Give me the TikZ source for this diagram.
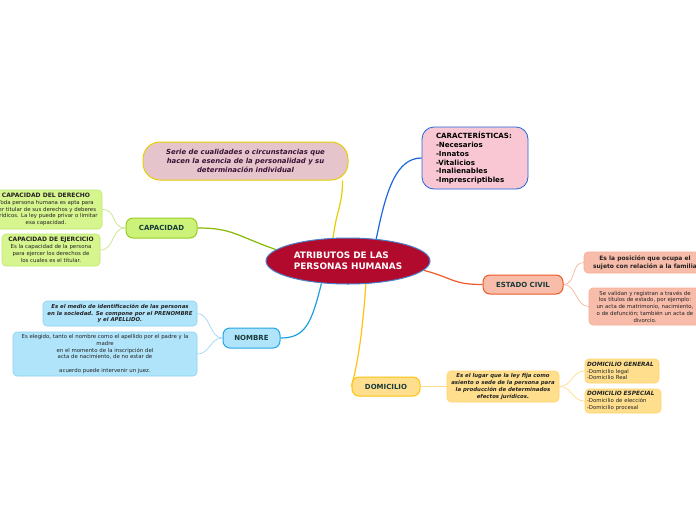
\documentclass[tikz,border=0pt]{standalone}
\usepackage{fontspec}
\setmainfont{DejaVu Sans}
\usetikzlibrary{shapes.geometric,backgrounds}
\definecolor{crim}{HTML}{B20A2C}
\definecolor{cblue}{HTML}{4A80C8}
\definecolor{defpink}{HTML}{E6C4CC}
\definecolor{defyel}{HTML}{E5CF00}
\definecolor{deftext}{HTML}{3A1035}
\definecolor{carpink}{HTML}{F9C7D4}
\definecolor{carblue}{HTML}{1E66DD}
\definecolor{capfill}{HTML}{CCF27A}
\definecolor{capdraw}{HTML}{99CC22}
\definecolor{capsubfill}{HTML}{D6F58E}
\definecolor{capsubdraw}{HTML}{BFE86E}
\definecolor{capline}{HTML}{88B800}
\definecolor{caplight}{HTML}{C6E68A}
\definecolor{nomfill}{HTML}{B0E4FA}
\definecolor{nomdraw}{HTML}{22A6E6}
\definecolor{nomline}{HTML}{1BA1E2}
\definecolor{nomsubdraw}{HTML}{8CD3F5}
\definecolor{nomlight}{HTML}{9ED8F4}
\definecolor{ecfill}{HTML}{F8BCAA}
\definecolor{ecdraw}{HTML}{EE5A24}
\definecolor{ecline}{HTML}{F05A28}
\definecolor{ecsubdraw}{HTML}{F7AD95}
\definecolor{eclight}{HTML}{F8B4A0}
\definecolor{domfill}{HTML}{FFDF8E}
\definecolor{domdraw}{HTML}{FFC20E}
\definecolor{domsubdraw}{HTML}{FFD36A}
\definecolor{domlight}{HTML}{FFDC8A}
\definecolor{maintext}{HTML}{173B3B}
\definecolor{smalltext}{HTML}{222222}
\begin{document}
\begin{tikzpicture}[x=1pt,y=-1pt,
  central/.style={ellipse, fill=crim, draw=cblue, line width=1pt, minimum width=164pt, minimum height=46pt, inner sep=0pt, text=white, font=\bfseries\fontsize{8.9}{11}\selectfont, align=left},
  mainbox/.style={rectangle, rounded corners=7pt, line width=1pt, inner sep=0pt, text=maintext, font=\bfseries\fontsize{7}{8}\selectfont},
  subbox/.style={rectangle, rounded corners=4pt, line width=0.6pt, inner sep=0pt, text=smalltext, align=center, font=\fontsize{5.4}{6.8}\selectfont},
  mainline/.style={line width=1.2pt},
  subline/.style={line width=0.7pt}
]
\useasboundingbox (0,0) rectangle (696,520);
\begin{scope}[on background layer]
\fill[white] (0,0) rectangle (696,520);
\end{scope}

% central
\node[central] (c) at (348,261) {ATRIBUTOS DE LAS\\PERSONAS HUMANAS};

% definition
\node[rectangle, rounded corners=17pt, fill=defpink, draw=defyel, line width=1pt, minimum width=205pt, minimum height=38pt, inner sep=0pt, text=deftext, align=center, font=\bfseries\itshape\fontsize{6.9}{8.6}\selectfont] (def) at (245.5,161) {Serie de cualidades o circunstancias que\\hacen la esencia de la personalidad y su\\determinación individual};

% caracteristicas
\node[rectangle, rounded corners=12pt, fill=carpink, draw=carblue, line width=0.8pt, minimum width=106pt, minimum height=62pt, inner sep=0pt, text width=78pt, align=left, font=\bfseries\fontsize{7.1}{8.9}\selectfont] (car) at (475,158) {CARACTERÍSTICAS:\\-Necesarios\\-Innatos\\-Vitalicios\\-Inalienables\\-Imprescriptibles};

% capacidad
\node[mainbox, fill=capfill, draw=capdraw, minimum width=71pt, minimum height=20pt] (cap) at (161.5,228) {CAPACIDAD};
\node[subbox, fill=capsubfill, draw=capsubdraw, minimum width=112pt, minimum height=39pt] (der) at (46,209.5) {{\bfseries\fontsize{6}{7.5}\selectfont CAPACIDAD DEL DERECHO}\\Toda persona humana es apta para\\ser titular de sus derechos y deberes\\jurídicos. La ley puede privar o limitar\\esa capacidad.};
\node[subbox, fill=capsubfill, draw=capsubdraw, minimum width=98pt, minimum height=32pt] (eje) at (51,250) {{\bfseries\fontsize{6}{7.5}\selectfont CAPACIDAD DE EJERCICIO}\\Es la capacidad de la persona\\para ejercer los derechos de\\los cuales es el titular.};

% nombre
\node[mainbox, fill=nomfill, draw=nomdraw, minimum width=57pt, minimum height=20pt] (nom) at (251.5,338) {NOMBRE};
\node[subbox, fill=nomfill, draw=nomsubdraw, minimum width=154pt, minimum height=25pt, font=\bfseries\itshape\fontsize{5.4}{6.8}\selectfont] (n1) at (120,313.5) {Es el medio de identificación de las personas\\en la sociedad. Se compone por el PRENOMBRE\\y el APELLIDO.};
\node[subbox, fill=nomfill, draw=nomsubdraw, minimum width=184pt, minimum height=44pt] (n2) at (105,354) {Es elegido, tanto el nombre como el apellido por el padre y la\\madre\\en el momento de la inscripción del\\acta de nacimiento, de no estar de\\[6.6pt]acuerdo puede intervenir un juez.};

% estado civil
\node[mainbox, fill=ecfill, draw=ecdraw, minimum width=80pt, minimum height=19pt] (ec) at (523,284.5) {ESTADO CIVIL};
\node[subbox, fill=ecfill, draw=ecsubdraw, minimum width=122pt, minimum height=21pt, font=\bfseries\fontsize{6}{7.5}\selectfont] (ec1) at (645,262.5) {Es la posición que ocupa el\\sujeto con relación a la familia};
\node[subbox, fill=ecfill, draw=ecsubdraw, minimum width=112pt, minimum height=37pt] (ec2) at (645,306.5) {Se validan y registran a través de\\los títulos de estado, por ejemplo:\\un acta de matrimonio, nacimiento,\\o de defunción; también un acta de\\divorcio.};

% domicilio
\node[mainbox, fill=domfill, draw=domdraw, minimum width=68pt, minimum height=19pt] (dom) at (386,386.5) {DOMICILIO};
\node[subbox, fill=domfill, draw=domsubdraw, minimum width=112pt, minimum height=31pt, font=\bfseries\itshape\fontsize{5.4}{6.8}\selectfont] (dd) at (503,386.5) {Es el lugar que la ley fija como\\asiento o sede de la persona para\\la producción de determinados\\efectos jurídicos.};
\node[subbox, fill=domfill, draw=domsubdraw, minimum width=74pt, minimum height=24pt, text width=70pt, align=left] (dg) at (622,371) {{\bfseries\itshape\fontsize{5.8}{7}\selectfont DOMICILIO GENERAL}\\-Domicilio legal\\-Domicilio Real};
\node[subbox, fill=domfill, draw=domsubdraw, minimum width=76pt, minimum height=24pt, text width=72pt, align=left] (de) at (623,401) {{\bfseries\itshape\fontsize{5.8}{7}\selectfont DOMICILIO ESPECIAL}\\-Domicilio de elección\\-Domicilio procesal};

% connectors
\begin{scope}[on background layer]
\draw[mainline, capline] (c.171) .. controls +(-40,-14) and +(35,0) .. (cap.east);
\draw[subline, caplight] (cap.west) .. controls +(-15,0) and +(15,0) .. (der.east);
\draw[subline, caplight] (cap.west) .. controls +(-15,0) and +(15,0) .. (eje.east);
\draw[mainline, defyel] (c.123) .. controls +(4,-30) and +(0,25) .. ([xshift=-6pt]def.south east);
\draw[mainline, carblue] (c.38) .. controls +(10,-50) and +(-25,0) .. (car.west);
\draw[mainline, ecline] (c.-7) .. controls +(30,8) and +(-30,0) .. (ec.west);
\draw[subline, eclight] (ec.east) .. controls +(13,0) and +(-13,0) .. (ec1.west);
\draw[subline, eclight] (ec.east) .. controls +(13,0) and +(-13,0) .. (ec2.west);
\draw[mainline, nomline] (c.220) .. controls +(-10,40) and +(25,0) .. (nom.east);
\draw[subline, nomlight] (nom.west) .. controls +(-13,0) and +(13,0) .. (n1.east);
\draw[subline, nomlight] (nom.west) .. controls +(-13,0) and +(13,0) .. (n2.east);
\draw[mainline, domdraw] (c.-52) .. controls +(-3,40) and +(8,-30) .. (dom.west);
\draw[subline, domlight] (dom.east) -- (dd.west);
\draw[subline, domlight] (dd.east) .. controls +(13,0) and +(-13,0) .. (dg.west);
\draw[subline, domlight] (dd.east) .. controls +(13,0) and +(-13,0) .. (de.west);
\end{scope}
\end{tikzpicture}
\end{document}
